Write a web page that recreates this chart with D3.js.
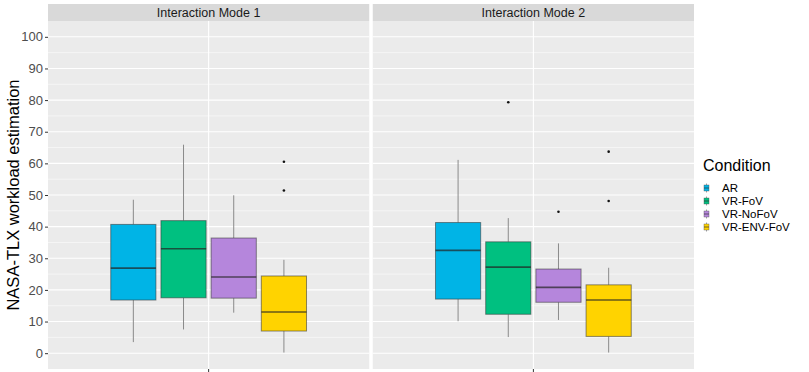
<!DOCTYPE html>
<html>
<head>
<meta charset="utf-8">
<script src="https://d3js.org/d3.v7.min.js"></script>
<style>
  body { margin: 0; background: #fff; }
  svg { display: block; font-family: "Liberation Sans", Arial, sans-serif; }
</style>
</head>
<body>
<svg id="chart" width="809" height="372"></svg>
<script>
// categories
const modes = ["Interaction Mode 1", "Interaction Mode 2"];
const conditions = ["AR", "VR-FoV", "VR-NoFoV", "VR-ENV-FoV"];
const colors = ["#00b4e6", "#00c080", "#b586dc", "#ffd300"];
const yTicks = [0, 10, 20, 30, 40, 50, 60, 70, 80, 90, 100];

// box stats per mode, one value per condition
const whiskerLow1 = [3.5, 7.5, 12.8, 0.2];
const q1Mode1 = [16.8, 17.5, 17.4, 7.0];
const median1 = [26.9, 33.0, 24.1, 13.0];
const q3Mode1 = [40.7, 41.9, 36.4, 24.4];
const whiskerHigh1 = [48.5, 65.9, 49.9, 29.5];
const outliers1 = [[], [], [], [60.5, 51.4]];

const whiskerLow2 = [10.1, 5.1, 10.5, 0.2];
const q1Mode2 = [17.1, 12.3, 16.1, 5.3];
const median2 = [32.5, 27.2, 20.8, 16.8];
const q3Mode2 = [41.3, 35.2, 26.6, 21.6];
const whiskerHigh2 = [61.1, 42.7, 34.7, 27.0];
const outliers2 = [[], [79.3], [44.7], [63.7, 48.1]];

// build rows
const stats = [
  [whiskerLow1, q1Mode1, median1, q3Mode1, whiskerHigh1, outliers1],
  [whiskerLow2, q1Mode2, median2, q3Mode2, whiskerHigh2, outliers2]
];
const rows = [];
modes.forEach((m, mi) => {
  conditions.forEach((c, ci) => {
    const s = stats[mi];
    rows.push({mode: m, cond: c, lo: s[0][ci], q1: s[1][ci], med: s[2][ci], q3: s[3][ci], hi: s[4][ci], out: s[5][ci]});
  });
});

const svg = d3.select("#chart");
const stripTop = 4, panelTop = 21, panelBottom = 369;

const panelX = d3.scaleBand().domain(modes).range([48, 694]).paddingInner(3.5 / 324.75);
const y = d3.scaleLinear().domain([-5, 105]).range([panelBottom, panelTop]);
const color = d3.scaleOrdinal().domain(conditions).range(colors);

modes.forEach(m => {
  const x0 = panelX(m), w = panelX.bandwidth();
  // discrete x with one level: range 0.4..1.6
  const xc = d3.scaleLinear().domain([0.4, 1.6]).range([x0, x0 + w]);
  const xb = d3.scaleBand().domain(conditions).range([xc(0.625), xc(1.375)])
    .paddingInner(0.1).paddingOuter(0.05);

  const g = svg.append("g");
  // strip
  g.append("rect").attr("x", x0).attr("y", stripTop).attr("width", w)
    .attr("height", panelTop - stripTop).attr("fill", "#d9d9d9");
  g.append("text").attr("x", x0 + w / 2).attr("y", (stripTop + panelTop) / 2 + 4.3)
    .attr("text-anchor", "middle").attr("font-size", 12.5).attr("fill", "#1a1a1a").text(m);

  // panel
  g.append("rect").attr("x", x0).attr("y", panelTop).attr("width", w)
    .attr("height", panelBottom - panelTop).attr("fill", "#ebebeb");
  const minor = d3.range(-5, 106, 10);
  g.selectAll("line.minor").data(minor.filter(v => v > -5 && v < 105)).join("line")
    .attr("x1", x0).attr("x2", x0 + w).attr("y1", d => y(d)).attr("y2", d => y(d))
    .attr("stroke", "#fff").attr("stroke-width", 0.55);
  g.selectAll("line.major").data(yTicks).join("line")
    .attr("x1", x0).attr("x2", x0 + w).attr("y1", d => y(d)).attr("y2", d => y(d))
    .attr("stroke", "#fff").attr("stroke-width", 1.1);
  g.append("line").attr("x1", xc(1)).attr("x2", xc(1)).attr("y1", panelTop).attr("y2", panelBottom)
    .attr("stroke", "#fff").attr("stroke-width", 1.1);

  // x tick (no label)
  g.append("line").attr("x1", xc(1)).attr("x2", xc(1)).attr("y1", panelBottom).attr("y2", panelBottom + 3)
    .attr("stroke", "#333").attr("stroke-width", 1);

  // boxes
  const data = rows.filter(r => r.mode === m);
  const bg = g.selectAll("g.box").data(data).join("g");
  const cx = d => xb(d.cond) + xb.bandwidth() / 2;
  bg.append("line").attr("x1", cx).attr("x2", cx).attr("y1", d => y(d.hi)).attr("y2", d => y(d.q3))
    .attr("stroke", "#8a8a8a").attr("stroke-width", 1);
  bg.append("line").attr("x1", cx).attr("x2", cx).attr("y1", d => y(d.q1)).attr("y2", d => y(d.lo))
    .attr("stroke", "#8a8a8a").attr("stroke-width", 1);
  bg.append("rect").attr("x", d => xb(d.cond)).attr("width", xb.bandwidth())
    .attr("y", d => y(d.q3)).attr("height", d => y(d.q1) - y(d.q3))
    .attr("fill", d => color(d.cond)).attr("stroke", "#333").attr("stroke-opacity", 0.55)
    .attr("stroke-width", 1);
  bg.append("line").attr("x1", d => xb(d.cond)).attr("x2", d => xb(d.cond) + xb.bandwidth())
    .attr("y1", d => y(d.med)).attr("y2", d => y(d.med))
    .attr("stroke", "#222").attr("stroke-opacity", 0.7).attr("stroke-width", 1.6);
  bg.selectAll("circle").data(d => d.out.map(v => ({v, cx: cx(d)}))).join("circle")
    .attr("cx", d => d.cx).attr("cy", d => y(d.v)).attr("r", 1.3).attr("fill", "#111");
});

// y axis
const yAxis = svg.append("g").attr("transform", `translate(${panelX(modes[0])},0)`)
  .call(d3.axisLeft(y).tickValues(yTicks).tickSize(3).tickPadding(2));
yAxis.select(".domain").remove();
yAxis.selectAll(".tick line").attr("stroke", "#333");
yAxis.selectAll(".tick text").attr("fill", "#4d4d4d").attr("font-size", 13)
  .attr("font-family", "Liberation Sans, Arial, sans-serif");

svg.append("text").attr("transform", `translate(19,${(panelTop + panelBottom) / 2}) rotate(-90)`)
  .attr("text-anchor", "middle").attr("font-size", 16.5).attr("fill", "#000")
  .text("NASA-TLX workload estimation");

// legend
const lg = svg.append("g").attr("transform", "translate(703,0)");
lg.append("text").attr("x", 0).attr("y", 171).attr("font-size", 16).attr("fill", "#000").text("Condition");
const items = lg.selectAll("g.item").data(conditions).join("g")
  .attr("transform", (d, i) => `translate(0,${188 + i * 13})`);
items.append("line").attr("x1", 3.5).attr("x2", 3.5).attr("y1", -4.5).attr("y2", 4.5)
  .attr("stroke", "#8a8a8a").attr("stroke-width", 0.8);
items.append("rect").attr("x", 1).attr("y", -3).attr("width", 5).attr("height", 6)
  .attr("fill", d => color(d)).attr("stroke", "#555").attr("stroke-width", 0.4);
items.append("line").attr("x1", 1).attr("x2", 6).attr("y1", 0).attr("y2", 0)
  .attr("stroke", "#333").attr("stroke-width", 0.7);
items.append("text").attr("x", 19).attr("y", 4.2).attr("font-size", 11.5).attr("fill", "#000").text(d => d);
</script>
</body>
</html>
